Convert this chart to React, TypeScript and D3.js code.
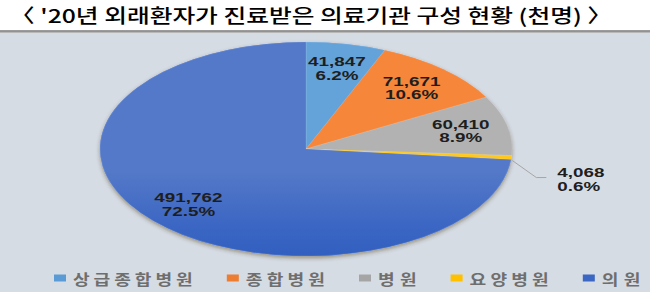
import React from 'react';
import * as d3 from 'd3';

const title = "〈 '20년 외래환자가 진료받은 의료기관 구성 현황 (천명) 〉";
const categories = ['상급종합병원', '종합병원', '병원', '요양병원', '의원'];
const values = [41847, 71671, 60410, 4068, 491762];
const valueLabels = ['41,847', '71,671', '60,410', '4,068', '491,762'];
const percentLabels = ['6.2%', '10.6%', '8.9%', '0.6%', '72.5%'];
const colors = ['#5B9BD5', '#ED7D31', '#A5A5A5', '#FFC000', '#3B66C3'];
const gradTop = ['#64A2DA', '#F5863A', '#B2B2B2', '#FFC81A', '#5479C8'];
const gradBottom = ['#4D8FD0', '#E6742A', '#9A9A9A', '#F5B800', '#2A5BBE'];

const W = 650;
const H = 292;
const cx = 306;
const cy = 149;
const rx = 206;
const ry = 107;
const sy = ry / rx;
const textSX = 1.45;
const legendSX = 1.25;

export default function App() {
  const pie = d3.pie<number>().sort(null).value((d) => d).startAngle(0).endAngle(2 * Math.PI);
  const arcs = pie(values);
  const arc = d3.arc<d3.PieArcDatum<number>>().innerRadius(0).outerRadius(rx);
  const labelArc = d3.arc<d3.PieArcDatum<number>>().innerRadius(rx * 0.77).outerRadius(rx * 0.77);

  const legendX0 = 54;
  const charW = 20.3;
  let lx = legendX0;
  const legendItems = categories.map((c, i) => {
    const item = { c, i, x: lx };
    lx += 12 + 7 + c.length * charW + 32;
    return item;
  });

  return (
    <svg width={W} height={H} style={{ position: 'absolute', left: 0, top: 0, display: 'block' }}>
      <defs>
        {colors.map((c, i) => (
          <linearGradient key={i} id={`g${i}`} gradientUnits="userSpaceOnUse" x1={0} y1={cy - ry} x2={0} y2={cy + ry}>
            <stop offset="0%" stopColor={gradTop[i]} />
            <stop offset="50%" stopColor={c} />
            <stop offset="100%" stopColor={gradBottom[i]} />
          </linearGradient>
        ))}
        <filter id="shadow" x="-10%" y="-10%" width="120%" height="130%">
          <feDropShadow dx="0" dy="2" stdDeviation="2" floodColor="#3a2a10" floodOpacity="0.45" />
        </filter>
      </defs>
      <rect x={0} y={0} width={W} height={H} fill="#D6DCE4" />
      <rect x={0} y={0} width={W} height={31} fill="#FFFFFF" />
      <line x1={0} x2={W} y1={31} y2={31} stroke="#7A7A7A" strokeWidth={1.5} />
      <line x1={0} x2={W} y1={32.5} y2={32.5} stroke="#B8B8B8" strokeWidth={1} />
      <text
        x={10}
        y={23}
        fontFamily="'Noto Sans CJK KR', sans-serif"
        fontSize={19}
        fontWeight={500}
        fill="#000"
        textLength={602}
        lengthAdjust="spacingAndGlyphs"
      >
        {title}
      </text>

      <g filter="url(#shadow)">
        <g transform={`translate(${cx},${cy}) scale(1,${sy})`}>
          {arcs.map((a, i) => (
            <path key={i} d={arc(a) || ''} fill={`url(#g${i})`} />
          ))}
        </g>
      </g>
      <g transform={`translate(${cx},${cy}) scale(1,${sy})`}>
        {arcs.map((a, i) => (
          <path key={i} d={arc(a) || ''} fill={`url(#g${i})`} stroke="rgba(255,255,255,0.25)" strokeWidth={0.6} />
        ))}
      </g>

      {arcs.map((a, i) => {
        if (i === 3) {
          const mid = (a.startAngle + a.endAngle) / 2;
          const ex = cx + rx * Math.sin(mid) + 1;
          const ey = cy - ry * Math.cos(mid) + 3;
          const bx = ex + 24;
          const by = ey + 17;
          const tx = bx + 10;
          return (
            <g key={i}>
              <polyline points={`${ex},${ey} ${bx},${by} ${tx},${by}`} fill="none" stroke="#A6A6A6" strokeWidth={1} />
              <g transform={`translate(${tx + 11},${by}) scale(${textSX},1)`}>
                <text y={-0.5} fontFamily="'Liberation Sans', Arial, sans-serif" fontWeight="bold" fontSize={13} fill="#1E1E1E">
                  {valueLabels[i]}
                </text>
                <text y={13.5} fontFamily="'Liberation Sans', Arial, sans-serif" fontWeight="bold" fontSize={13} fill="#1E1E1E">
                  {percentLabels[i]}
                </text>
              </g>
            </g>
          );
        }
        const [px, py] = labelArc.centroid(a);
        const x = cx + px;
        const y = cy + py * sy;
        return (
          <g key={i} transform={`translate(${x},${y}) scale(${textSX},1)`}>
            <text y={-2} textAnchor="middle" fontFamily="'Liberation Sans', Arial, sans-serif" fontWeight="bold" fontSize={13} fill="#1E1E1E">
              {valueLabels[i]}
            </text>
            <text y={11.5} textAnchor="middle" fontFamily="'Liberation Sans', Arial, sans-serif" fontWeight="bold" fontSize={13} fill="#1E1E1E">
              {percentLabels[i]}
            </text>
          </g>
        );
      })}

      {legendItems.map(({ c, i, x }) => (
        <g key={c}>
          <rect x={x} y={274.5} width={12} height={7} fill={colors[i]} />
          <g transform={`translate(${x + 19},284.5) scale(${legendSX},1)`}>
            <text
              x={0}
              y={0}
              fontFamily="'Noto Sans CJK KR', sans-serif"
              fontSize={14.5}
              fontWeight={700}
              fill="#6E6E6E"
              textLength={(c.length * charW - 2) / legendSX}
              lengthAdjust="spacing"
            >
              {c}
            </text>
          </g>
        </g>
      ))}
    </svg>
  );
}
